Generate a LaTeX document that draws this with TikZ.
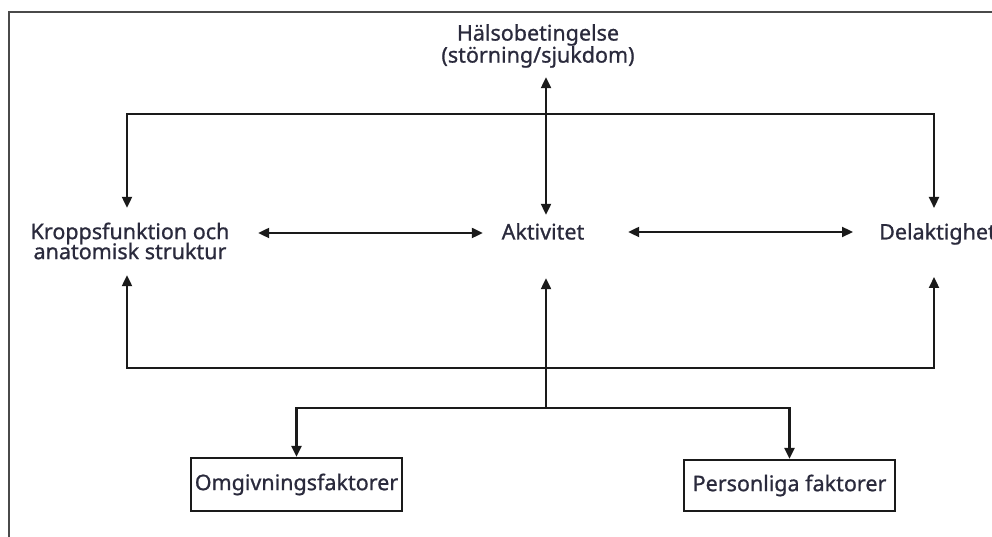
\documentclass[tikz,border=0pt]{standalone}
\usepackage{fontspec}
\setmainfont{Noto Sans}[FakeBold=0.9]
\usetikzlibrary{arrows.meta,calc}
\definecolor{txt}{HTML}{2A2A3C}
\definecolor{ln}{HTML}{1A1A1A}
\definecolor{frm}{HTML}{4A4A4A}
\begin{document}
\lineskiplimit=-30pt\relax
\lineskip=0pt\relax
\begin{tikzpicture}[x=1pt,y=1pt,
  lbl/.style={inner sep=0pt, font=\fontsize{21.5}{20}\selectfont, text=txt, align=center},
  one/.style={text height=16pt, text depth=5pt, minimum height=22pt},
  fbox/.style={draw=ln, line width=2.2pt, inner sep=0pt, minimum width=211pt, minimum height=53pt, font=\fontsize{21.5}{20}\selectfont, text=txt},
  conn/.style={draw=ln, line width=2.2pt},
  arr/.style={conn, -{Triangle[length=11pt,width=10pt]}},
  dbl/.style={conn, {Triangle[length=11pt,width=10pt]}-{Triangle[length=11pt,width=10pt]}}]
\useasboundingbox (0,0) rectangle (992,537);
% outer frame (only top and left edges visible)
\draw[frm, line width=2.2pt] (9,-5) -- (9,525) -- (1000,525);
% nodes
\node[lbl, minimum width=200pt, minimum height=44pt, font=\fontsize{21.5}{22}\selectfont] (hal) at (538,491) {Hälsobetingelse\\(störning/sjukdom)};
\node[lbl, minimum width=204pt, minimum height=44pt] (kropp) at (130,296) {Kroppsfunktion och\\anatomisk struktur};
\node[lbl, one, minimum width=90pt] (akt) at (543,303) {Aktivitet};
\node[lbl, one, anchor=west] (del) at (879,303) {Delaktighet};
\node[fbox] (omg) at (296.5,52.5) {Omgivningsfaktorer};
\node[fbox, minimum height=51pt] (pers) at (789.5,51.5) {Personliga faktorer};
% connectors
\draw[dbl] ($(hal.south)+(8,-9)$) -- ($(akt.north)+(3,8)$);
\draw[dbl] ($(kropp.east)+(26,8)$) -- ($(akt.west)+(-15,1)$);
\draw[dbl] ($(akt.east)+(40,2)$) -- ($(del.west)+(-26,2)$);
\draw[dbl] ($(kropp.north)+(-3,11)$) -- ++(0,94) -| ($(del.west)+(55,26)$);
\draw[dbl] ($(kropp.south)+(-3,-12)$) -- ++(0,-93) -| ($(del.west)+(55,-43)$);
\coordinate (jn) at ($(akt.south)+(3,-163)$);
\draw[arr] (jn) -- ($(akt.south)+(3,-33)$);
\draw[arr] (jn) -| (omg.north);
\draw[arr] (jn) -| (pers.north);
\end{tikzpicture}
\end{document}
